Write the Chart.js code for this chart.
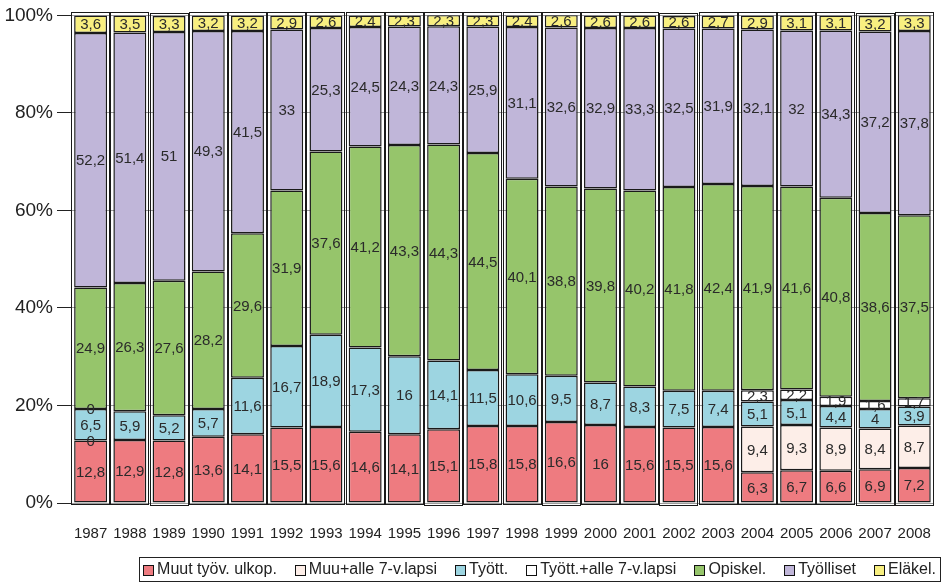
<!DOCTYPE html>
<html>
<head>
<meta charset="utf-8">
<script src="https://cdn.jsdelivr.net/npm/chart.js@4/dist/chart.umd.min.js"></script>
<style>
html,body{margin:0;padding:0;background:#fff;}
#wrap{width:945px;height:586px;}
</style>
</head>
<body>
<div id="wrap"><canvas id="c" width="945" height="586"></canvas></div>
<script>
const years = ['1987','1988','1989','1990','1991','1992','1993','1994','1995','1996','1997','1998','1999','2000','2001','2002','2003','2004','2005','2006','2007','2008'];
const muut = [12.8,12.9,12.8,13.6,14.1,15.5,15.6,14.6,14.1,15.1,15.8,15.8,16.6,16,15.6,15.5,15.6,6.3,6.7,6.6,6.9,7.2];
const muuLapsi = [0,null,null,null,null,null,null,null,null,null,null,null,null,null,null,null,null,9.4,9.3,8.9,8.4,8.7];
const tyott = [6.5,5.9,5.2,5.7,11.6,16.7,18.9,17.3,16,14.1,11.5,10.6,9.5,8.7,8.3,7.5,7.4,5.1,5.1,4.4,4,3.9];
const tyottLapsi = [0,null,null,null,null,null,null,null,null,null,null,null,null,null,null,null,null,2.3,2.2,1.9,1.6,1.7];
const opiskel = [24.9,26.3,27.6,28.2,29.6,31.9,37.6,41.2,43.3,44.3,44.5,40.1,38.8,39.8,40.2,41.8,42.4,41.9,41.6,40.8,38.6,37.5];
const tyolliset = [52.2,51.4,51,49.3,41.5,33,25.3,24.5,24.3,24.3,25.9,31.1,32.6,32.9,33.3,32.5,31.9,32.1,32,34.3,37.2,37.8];
const elakel = [3.6,3.5,3.3,3.2,3.2,2.9,2.6,2.4,2.3,2.3,2.3,2.4,2.6,2.6,2.6,2.6,2.7,2.9,3.1,3.1,3.2,3.3];
const yTicks = [0,20,40,60,80,100];

const FONT = "'Liberation Sans', Arial, Helvetica, sans-serif";

function ds(label, data, color){
  return {label, data, backgroundColor: color, borderColor:'#1a1a1a', borderWidth:1.5,
          barPercentage:0.84, categoryPercentage:1.0, borderSkipped:false};
}

const labelPlugin = {
  id:'segLabels',
  afterDatasetsDraw(chart){
    const ctx = chart.ctx;
    ctx.save();
    const n = chart.data.labels.length;
    const metas = chart.data.datasets.map((d,i)=>chart.getDatasetMeta(i));
    ctx.strokeStyle = '#1a1a1a';
    ctx.lineWidth = 1;
    for (let j = 0; j < n; j++) {
      let top = Infinity, bot = -Infinity, x = null, w = null;
      metas.forEach((m, i) => {
        const v = chart.data.datasets[i].data[j];
        if (v === null || v === undefined) return;
        const p = m.data[j].getProps(['x','y','base','width'], true);
        top = Math.min(top, p.y, p.base);
        bot = Math.max(bot, p.y, p.base);
        x = p.x; w = p.width;
      });
      if (x === null) continue;
      ctx.strokeRect(Math.round(x - w/2) - 2.5, Math.round(top) - 2.5, Math.round(w) + 5, Math.round(bot - top) + 5);
    }
    ctx.font = "15px " + FONT;
    ctx.fillStyle = '#2a2a2a';
    ctx.textAlign = 'center';
    ctx.textBaseline = 'middle';
    chart.data.datasets.forEach((d, i) => {
      const meta = metas[i];
      meta.data.forEach((el, j) => {
        const v = d.data[j];
        if (v === null || v === undefined) return;
        const p = el.getProps(['x','y','base'], true);
        const y = (p.y + p.base) / 2;
        ctx.fillText(String(v).replace('.', ','), p.x, y + 1);
      });
    });
    ctx.restore();
  }
};

const legendPlugin = {
  id:'customLegend',
  afterDraw(chart){
    const ctx = chart.ctx;
    ctx.save();
    ctx.font = "16px " + FONT;
    const box = 11, boxGap = 3, itemGap = 18, pad = 4;
    const items = chart.data.datasets.map(d => ({label:d.label, color:d.backgroundColor, w: ctx.measureText(d.label).width}));
    let total = pad*2;
    items.forEach((it, k) => { total += box + boxGap + it.w + (k < items.length-1 ? itemGap : 0); });
    const right = 940, top = 557, h = 24;
    const left = right - total;
    ctx.strokeStyle = '#222';
    ctx.lineWidth = 1;
    ctx.strokeRect(Math.round(left) + 0.5, top + 0.5, Math.round(total), h);
    let x = left + pad;
    const cy = top + h/2 + 1;
    ctx.textBaseline = 'middle';
    ctx.textAlign = 'left';
    items.forEach(it => {
      ctx.fillStyle = it.color;
      ctx.fillRect(Math.round(x), Math.round(cy - box/2), box, box);
      ctx.strokeStyle = '#111';
      ctx.strokeRect(Math.round(x) + 0.5, Math.round(cy - box/2) + 0.5, box - 1, box - 1);
      x += box + boxGap;
      ctx.fillStyle = '#222';
      ctx.fillText(it.label, x, cy);
      x += it.w + itemGap;
    });
    ctx.restore();
  }
};

new Chart(document.getElementById('c'), {
  type:'bar',
  data:{
    labels: years,
    datasets:[
      ds('Muut työv. ulkop.', muut, '#ee7b80'),
      ds('Muu+alle 7-v.lapsi', muuLapsi, '#fdeee8'),
      ds('Tyött.', tyott, '#9dd5e1'),
      ds('Tyött.+alle 7-v.lapsi', tyottLapsi, '#ffffff'),
      ds('Opiskel.', opiskel, '#96c56b'),
      ds('Työlliset', tyolliset, '#c0b6d9'),
      ds('Eläkel.', elakel, '#f8ef80')
    ]
  },
  options:{
    responsive:false,
    animation:false,
    devicePixelRatio:1,
    layout:{padding:{top:15, right:2, left:0, bottom:38}},
    plugins:{
      tooltip:{enabled:false},
      legend:{display:false}
    },
    scales:{
      x:{
        stacked:true,
        grid:{display:false},
        border:{display:false},
        afterFit(axis){ axis.height = 45; },
        ticks:{font:{family:FONT, size:15}, color:'#222', padding:14, maxRotation:0, autoSkip:false}
      },
      y:{
        stacked:true,
        min:0, max:100,
        afterBuildTicks(axis){ axis.ticks = yTicks.map(v => ({value:v})); },
        afterFit(axis){ axis.width = 71; },
        grid:{color:'#9a9a9a', lineWidth:1, drawTicks:true, tickLength:14, tickColor:'#222'},
        border:{display:false},
        ticks:{font:{family:FONT, size:19}, color:'#222', padding:4, callback:v => v + '%'}
      }
    }
  },
  plugins:[labelPlugin, legendPlugin]
});
</script>
</body>
</html>
